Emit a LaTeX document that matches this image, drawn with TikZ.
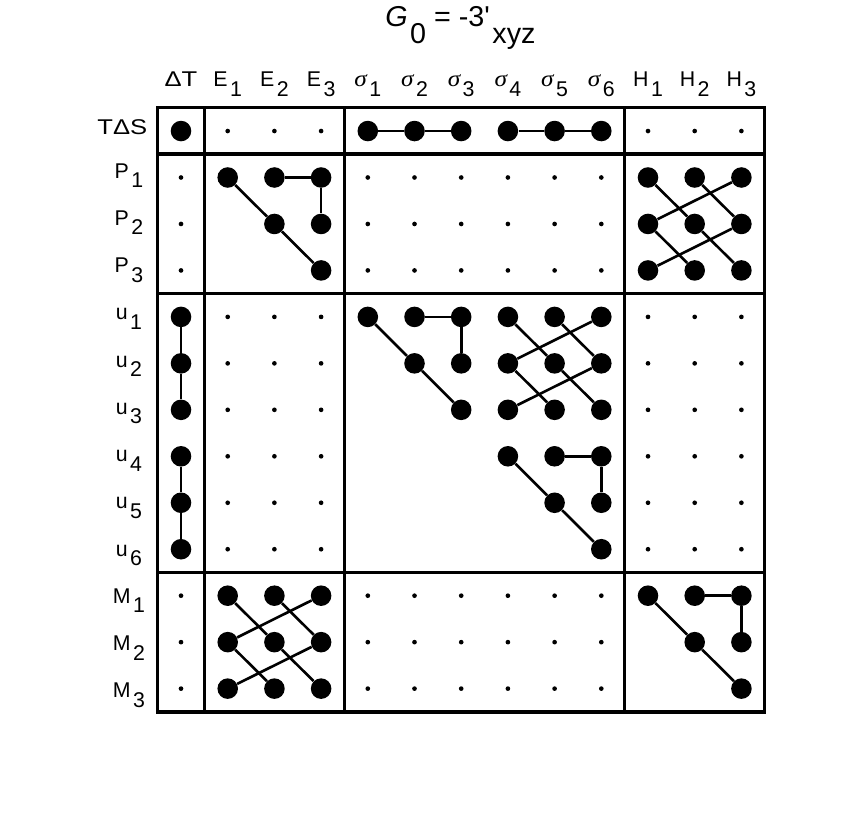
\documentclass[tikz,border=0pt]{standalone}
\usepackage{fontspec}
\setmainfont{Liberation Sans}
\newfontfamily\wide[FakeStretch=1.2]{Liberation Sans}
\newfontfamily\serifgr[FakeStretch=1.1]{Liberation Serif}
\newcommand{\lo}[2][0.45em]{\kern1.5pt\raisebox{-#1}{#2}}
\newcommand{\sig}[1]{{\serifgr\itshape\fontsize{14}{16}\selectfont σ}\lo{#1}}

\begin{document}
\begin{tikzpicture}[x=1cm,y=-0.995cm,
  big/.style={circle,fill,inner sep=0pt,minimum size=4.4mm},
  tiny/.style={circle,fill,inner sep=0pt,minimum size=1mm},
  link/.style={line width=1.6pt},
  frame/.style={line width=2.1pt},
  lab/.style={anchor=base,inner sep=0pt,font=\fontsize{13}{15}\selectfont}]

\useasboundingbox (0,0) rectangle (18.33,17.477);

\node[lab,font=\fontsize{17.5}{20}\selectfont] (title) at (9.86,0.581)
  {\textit{G}\lo[0.57em]{0} = -3\textquotesingle\lo[0.57em]{xyz}};

% column and row labels
\foreach \t [count=\c from 0] in {{\wide ΔT},E\lo{1},E\lo{2},E\lo{3},\sig{1},\sig{2},\sig{3},\sig{4},\sig{5},\sig{6},H\lo{1},H\lo{2},H\lo{3}}
  \node[lab] (col\c) at (3.876+\c,1.872) {\t};
\node[lab] (row0) at (2.62,2.884) {\wide TΔS};
\foreach \t [count=\r] in {P\lo{1},P\lo{2},P\lo{3},u\lo{1},u\lo{2},u\lo{3},u\lo{4},u\lo{5},u\lo{6},M\lo{1},M\lo{2},M\lo{3}}
  \node[lab] (row\r) at (2.76,2.814+1.017*\r) {\t};

% small dots
\foreach \rr/\cc in {{0}/{1,2,3,10,11,12},{1,2,3}/{0,4,5,6,7,8,9},{4,...,9}/{1,2,3,10,11,12},{10,11,12}/{0,4,5,6,7,8,9}}
  \foreach \r in \rr
    \foreach \c in \cc
      \node[tiny] (s\r-\c) at (3.876+\c,2.82+\r) {};

% big dots
\foreach \c in {0,4,5,6,7,8,9}
  \node[big] (TS-\c) at (3.876+\c,2.82) {};
\foreach \r in {4,...,9}
  \node[big] (dT-\r) at (3.876,2.82+\r) {};
\foreach \b/\r/\c in {PE/1/1,uA/4/4,uB/7/7,MH/10/10}
  \foreach \i/\j in {0/0,0/1,0/2,1/1,1/2,2/2}
    \node[big] (\b-\i\j) at (3.876+\c+\j,2.82+\r+\i) {};
\foreach \b/\r/\c in {PH/1/10,uC/4/7,ME/10/1}
  \foreach \i in {0,1,2}
    \foreach \j in {0,1,2}
      \node[big] (\b-\i\j) at (3.876+\c+\j,2.82+\r+\i) {};

% links
\path[link] (TS-4) edge (TS-5) (TS-5) edge (TS-6)
            (TS-7) edge (TS-8) (TS-8) edge (TS-9)
            (dT-4) edge (dT-5) (dT-5) edge (dT-6)
            (dT-7) edge (dT-8) (dT-8) edge (dT-9);
\foreach \b in {PE,uA,uB,MH}
  \path[link] (\b-00) edge (\b-11) (\b-11) edge (\b-22)
              (\b-01) edge (\b-02) (\b-02) edge (\b-12);
\foreach \b in {PH,uC,ME}
  \foreach \i/\n in {0/1,1/2}
    \path[link] (\b-\i0) edge (\b-\n1) (\b-\i1) edge (\b-\n2) (\b-\i2) edge (\b-\n0);

% frame
\draw[frame] (3.376,2.319) rectangle (16.376,15.319);
\foreach \x in {4.376,7.376,13.376}
  \draw[frame] (\x,2.319) -- (\x,15.319);
\foreach \y in {3.319,6.319,12.319}
  \draw[frame] (3.376,\y) -- (16.376,\y);
\end{tikzpicture}
\end{document}
